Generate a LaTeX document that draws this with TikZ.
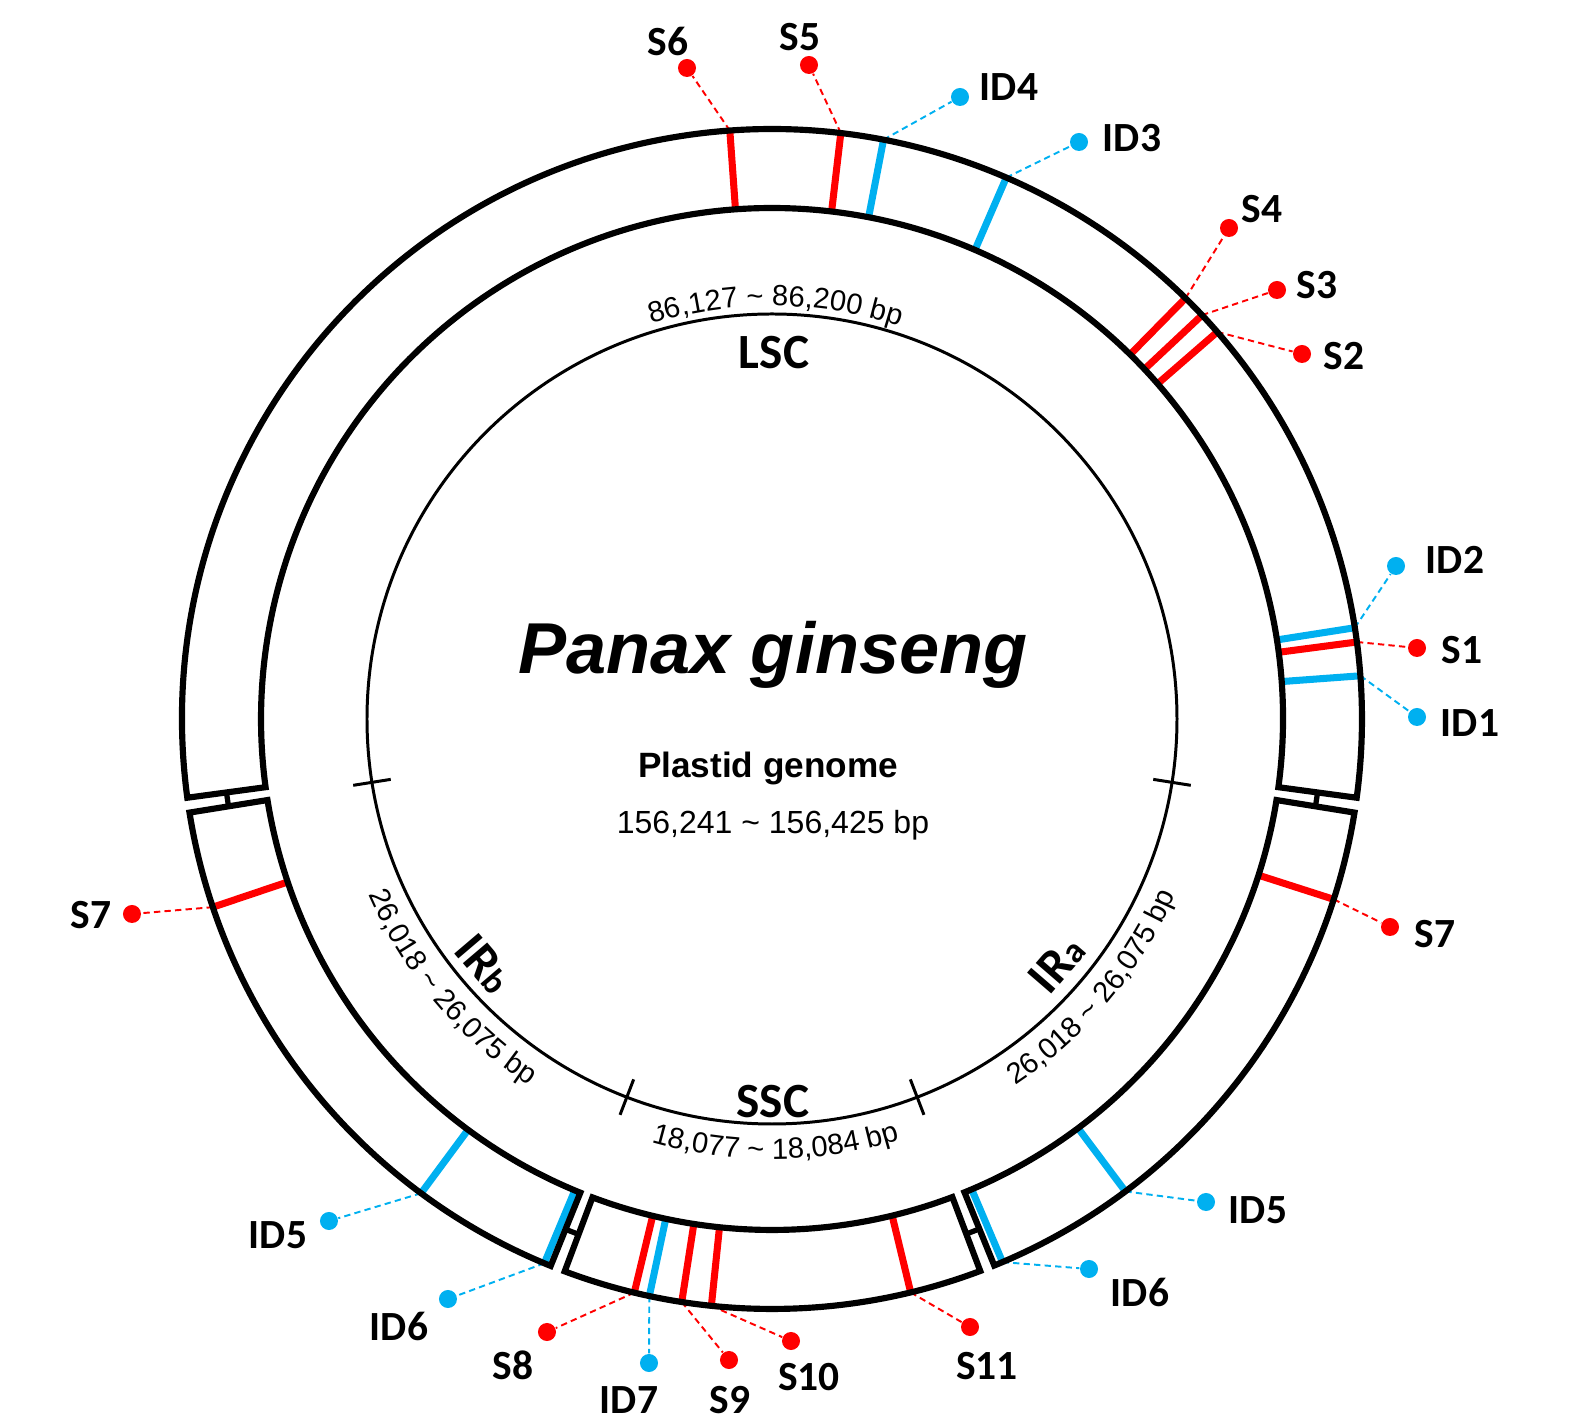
\documentclass[tikz,border=0pt]{standalone}
\usepackage{fontspec}
\setmainfont{Liberation Sans}
\newfontfamily\calib{Carlito}
\usepackage{tikz}
\usetikzlibrary{decorations.text}

\definecolor{snpred}{RGB}{255,0,0}
\definecolor{indelblue}{RGB}{0,176,240}
\newcommand{\arcfont}{\fontsize{8.3}{10}\selectfont}

\begin{document}
\begin{tikzpicture}[x=0.01cm, y=0.01cm,
  band/.style={line width=1.75pt, black},
  ring/.style={line width=0.85pt, black},
  site/.style={line width=2pt},
  lead/.style={line width=0.55pt, dash pattern=on 1.8pt off 1.2pt},
  dot/.style={circle, inner sep=0pt, minimum size=0.18cm},
  sitelab/.style={font=\calib\bfseries\fontsize{11.8}{14}\selectfont},
  region/.style={font=\calib\bfseries\fontsize{14}{16}\selectfont}
]
  \useasboundingbox (-772,-706) rectangle (813,719);

  % SNP (red) and InDel (blue) sites with leaders
  \foreach \nm/\txt/\ang/\col/\dx/\dy/\lx/\ly in {
    S6/S6/94.1/snpred/-85/651/-104/677,
    S5/S5/83.3/snpred/37/654/28/682,
    ID4/ID4/79.1/indelblue/188/622/237/632,
    ID3/ID3/66.6/indelblue/307/577/360/581,
    S4/S4/45.5/snpred/457/491/490/510,
    S3/S3/43.2/snpred/505/429/545/434,
    S2/S2/41.0/snpred/530/365/572/363,
    ID2/ID2/8.9/indelblue/624/153/683/159,
    S1/S1/7.5/snpred/645/71/690/69,
    ID1/ID1/4.2/indelblue/645/2/698/-4,
    S7a/S7/-17.8/snpred/618/-208/663/-215,
    ID5a/ID5/-53.2/indelblue/434/-483/486/-491,
    ID6a/ID6/-67.0/indelblue/317/-550/368/-573,
    S11/S11/-76.4/snpred/198/-608/215/-647,
    S10/S10/-95.9/snpred/19/-622/37/-658,
    S9/S9/-98.8/snpred/-43/-641/-42/-681,
    ID7/ID7/-102/indelblue/-123/-644/-143/-681,
    S8/S8/-103.5/snpred/-225/-613/-259/-646,
    ID6b/ID6/-112.7/indelblue/-324/-580/-373/-607,
    ID5b/ID5/-126.5/indelblue/-443/-502/-494/-516,
    S7b/S7/198.6/snpred/-640/-195/-681/-196}
  {
    \draw[site, color=\col] (\ang:511) -- (\ang:590) coordinate (\nm-end);
    \node[dot, fill=\col] (\nm-dot) at (\dx,\dy) {};
    \node[sitelab] (\nm-lab) at (\lx,\ly) {\txt};
    \draw[lead, color=\col] (\nm-end) -- (\nm-dot);
  }

  % Outer band: LSC, IRb, SSC, IRa
  \foreach \s/\e in {-7.67/187.67, 189.13/247.97, 249.43/290.67, 292.13/350.87}
    \draw[band] (\s:511) arc[start angle=\s, end angle=\e, radius=511]
      -- (\e:590) arc[start angle=\e, end angle=\s, radius=590] -- cycle;
  % junction bars
  \foreach \g in {-8.4, 188.4, 248.7, 291.4}
    \draw[band, line width=1.5pt] ({\g-0.8}:550.5) -- ({\g+0.8}:550.5);

  % Inner circle with region borders
  \draw[ring] (0,0) circle[radius=405];
  \foreach \t in {-9, 189, 249, 291}
    \draw[ring] (\t:386) -- (\t:424);

  % Region names
  \node[region] (lsc) at (2,366) {LSC};
  \node[region] (ssc) at (1,-383) {SSC};
  \node[region, rotate=-49.6] (irb) at (-288,-245) {IR{\fontsize{10}{11}\selectfont b}};
  \node[region, rotate=49.2] (ira) at (285,-245) {IR{\fontsize{10}{11}\selectfont a}};

  % Region lengths along the circle
  \path[decorate, decoration={text along path, text align=center,
      text={|\arcfont|86,127 {\textasciitilde} 86,200 bp}}]
    (110:413) arc[start angle=110, end angle=69, radius=413];
  \path[decorate, decoration={text along path, text align=center,
      text={|\arcfont|18,077 {\textasciitilde} 18,084 bp}}]
    (-110:440) arc[start angle=-110, end angle=-69, radius=440];
  \path[decorate, decoration={text along path, text align=center,
      text={|\arcfont|26,018 {\textasciitilde} 26,075 bp}}]
    (-158:440) arc[start angle=-158, end angle=-122, radius=440];
  \path[decorate, decoration={text along path, text align=center,
      text={|\arcfont|26,018 {\textasciitilde} 26,075 bp}}]
    (-58:440) arc[start angle=-58, end angle=-22, radius=440];

  % Centre title
  \node[font=\fontsize{20.5}{24}\selectfont\bfseries\itshape] (title) at (1,64) {Panax ginseng};
  \node[font=\fontsize{10}{12}\selectfont\bfseries] (sub) at (-4,-49) {Plastid genome};
  \node[font=\fontsize{9.1}{11}\selectfont] (size) at (1,-106) {156,241 {\textasciitilde} 156,425 bp};
\end{tikzpicture}
\end{document}
